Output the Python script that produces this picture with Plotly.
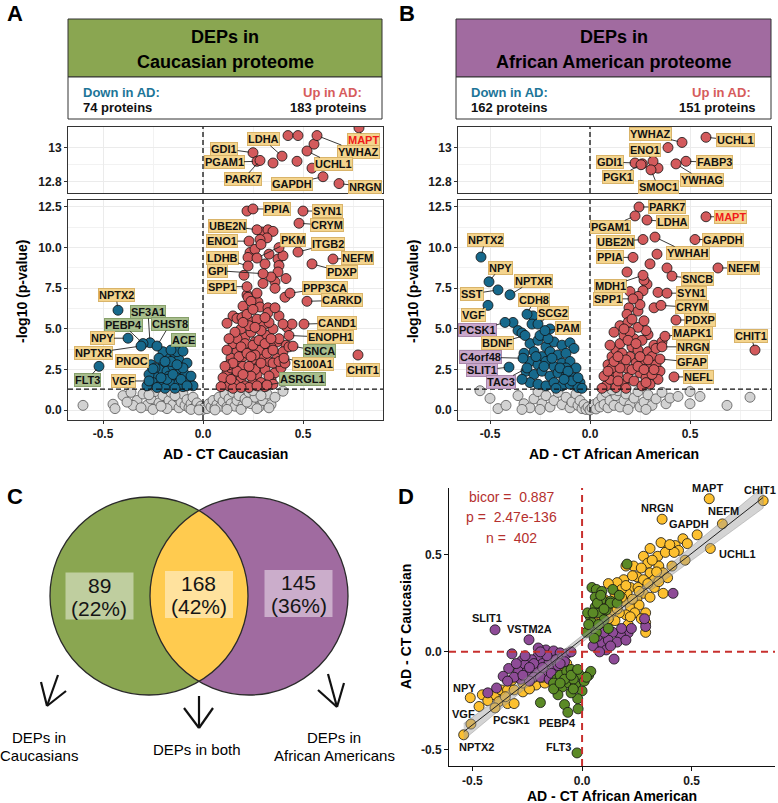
import numpy as np
import plotly.graph_objects as go

W, H = 778, 803
FONT = "Liberation Sans"

# ======================= DATA =======================
# ---- Panel A : Caucasian proteome (x = AD - CT, y = -log10 p) ----
a_labels = ["MAPT", "LDHA", "YWHAZ", "UCHL1", "GDI1", "PGAM1", "PARK7", "GAPDH", "NRGN",
            "PPIA", "SYN1", "CRYM", "UBE2N", "ENO1", "PKM", "ITGB2", "NEFM", "LDHB", "GPI",
            "PDXP", "SPP1", "PPP3CA", "CARKD", "CAND1", "ENOPH1", "SNCA", "S100A1", "CHIT1",
            "ASRGL1", "NPTX2", "SF3A1", "PEBP4", "CHST8", "NPY", "ACE", "NPTXR", "PNOC",
            "FLT3", "VGF"]
a_label_x = [0.78, 0.395, 0.57, 0.52, 0.25, 0.27, 0.285, 0.6, 0.68,
             0.25, 0.5, 0.48, 0.27, 0.23, 0.27, 0.475, 0.65, 0.225, 0.3,
             0.545, 0.22, 0.435, 0.52, 0.505, 0.43, 0.45, 0.405, 0.775,
             0.32, -0.425, -0.265, -0.3, -0.23, -0.375, -0.1, -0.31, -0.25,
             -0.52, -0.27]
a_label_y = [13.115, 12.95, 13.07, 12.98, 12.97, 12.92, 12.925, 12.83, 12.79,
             12.38, 12.25, 11.5, 11.1, 10.4, 9.36, 9.73, 9.3, 8.87, 8.4,
             9.0, 7.6, 7.2, 6.7, 5.3, 4.6, 3.94, 3.2, 3.4,
             1.55, 6.15, 4.15, 4.1, 3.95, 4.43, 3.63, 3.95, 2.55,
             2.7, 1.8]
a_label_dir = ["up"] * 29 + ["down"] * 10
a_label_group = ["both"] * 25 + ["cau", "both", "both", "cau", "both", "cau", "cau", "cau",
                                 "both", "cau", "both", "both", "cau", "both"]

a_up = [(0.425, 13.07), (0.475, 13.07), (0.555, 13.02), (0.35, 12.91), (0.47, 12.92), (0.545, 12.88),
        (0.22, 12.25), (0.295, 10.96), (0.325, 11.1), (0.35, 11.0), (0.32, 10.6), (0.285, 10.5),
        (0.235, 9.7), (0.225, 9.4), (0.375, 9.3), (0.38, 8.9), (0.375, 8.5), (0.205, 8.3), (0.415, 8.1), (0.36, 7.9),
        (0.22, 7.1), (0.225, 6.95), (0.275, 6.65), (0.36, 7.5), (0.41, 6.95),
        (0.2, 6.4), (0.285, 6.35), (0.325, 6.3), (0.325, 6.0), (0.29, 5.55),
        (0.15, 5.8), (0.17, 5.65), (0.12, 5.35), (0.195, 5.7), (0.235, 5.45),
        (0.42, 5.1), (0.445, 5.3), (0.415, 4.0), (0.37, 4.2), (0.34, 3.9), (0.3, 4.0),
        (0.12, 2.3), (0.14, 2.6), (0.16, 2.0), (0.11, 1.7), (0.13, 1.5), (0.18, 2.9), (0.2, 3.3), (0.17, 3.6),
        (0.15, 4.1), (0.21, 4.5), (0.19, 5.0), (0.24, 4.8), (0.26, 4.2), (0.23, 3.8), (0.25, 3.1), (0.28, 2.7),
        (0.22, 2.4), (0.19, 1.9), (0.16, 1.6), (0.25, 1.8), (0.27, 2.2), (0.31, 2.5), (0.33, 3.0), (0.3, 3.4),
        (0.28, 3.7), (0.32, 4.6), (0.35, 5.0), (0.3, 5.2), (0.27, 5.6), (0.22, 5.9), (0.14, 3.2), (0.12, 3.7),
        (0.1, 2.0), (0.09, 1.45), (0.21, 1.5), (0.29, 1.7), (0.34, 1.9), (0.36, 2.3), (0.39, 2.6), (0.37, 3.2),
        (0.4, 3.6), (0.43, 3.9), (0.38, 4.4), (0.35, 2.9), (0.26, 2.5), (0.2, 2.7), (0.17, 4.4), (0.29, 4.9),
        (0.33, 5.4), (0.38, 5.8), (0.4, 5.3), (0.24, 6.7), (0.27, 7.2), (0.3, 7.8), (0.34, 8.2), (0.31, 9.0),
        (0.26, 9.9), (0.29, 10.2), (0.33, 9.6), (0.4, 9.5), (0.38, 10.0), (0.13, 2.8), (0.18, 3.3),
        (0.23, 1.4), (0.31, 1.45), (0.15, 1.35), (0.24, 2.1), (0.33, 2.1), (0.21, 4.1),
        (0.14, 1.9), (0.17, 2.4), (0.2, 2.2), (0.23, 2.7), (0.26, 3.4), (0.29, 2.9), (0.32, 3.5),
        (0.35, 3.7), (0.15, 2.9), (0.19, 3.9), (0.22, 3.5), (0.25, 4.0), (0.28, 4.3), (0.31, 4.1),
        (0.34, 4.4), (0.23, 5.2), (0.2, 5.4), (0.26, 5.1), (0.16, 4.8), (0.13, 4.4), (0.11, 2.7),
        (0.38, 3.0), (0.41, 2.9), (0.27, 1.5), (0.35, 1.6), (0.19, 1.4), (0.24, 3.3), (0.31, 5.7),
        (0.36, 6.3), (0.25, 6.2)]
a_down = [(-0.17, 3.3), (-0.14, 3.45), (-0.12, 3.1), (-0.08, 2.9), (-0.2, 2.9), (-0.22, 2.5), (-0.18, 2.4),
          (-0.15, 2.7), (-0.11, 2.5), (-0.09, 2.2), (-0.13, 2.0), (-0.17, 2.1), (-0.24, 2.1), (-0.25, 1.7),
          (-0.21, 1.6), (-0.16, 1.6), (-0.12, 1.7), (-0.07, 1.8), (-0.05, 1.5), (-0.1, 1.45), (-0.19, 1.35),
          (-0.23, 1.4), (-0.14, 1.35), (-0.27, 2.2), (-0.2, 3.6), (-0.16, 3.0), (-0.1, 2.6), (-0.06, 2.1),
          (-0.28, 1.5), (-0.13, 3.6), (-0.18, 1.9), (-0.22, 3.2), (-0.26, 2.8), (-0.19, 3.0), (-0.15, 2.2),
          (-0.11, 1.9), (-0.21, 2.0), (-0.08, 1.5), (-0.24, 2.6), (-0.16, 3.7), (-0.13, 2.8)]
a_ns = [(-0.6, 0.3), (-0.45, 0.37), (-0.4, 0.9), (-0.36, 1.1), (-0.33, 0.6), (-0.3, 1.0), (-0.28, 0.3),
        (-0.26, 0.7), (-0.24, 1.15), (-0.22, 0.45), (-0.2, 0.9), (-0.19, 0.2), (-0.17, 0.6), (-0.16, 1.1),
        (-0.15, 0.35), (-0.13, 0.8), (-0.12, 0.15), (-0.11, 0.5), (-0.1, 1.0), (-0.09, 0.3), (-0.08, 0.65),
        (-0.07, 0.15), (-0.06, 0.4), (-0.05, 0.8), (-0.04, 0.2), (-0.03, 0.45), (-0.02, 0.1), (-0.01, 0.25),
        (0.0, 0.05), (0.01, 0.2), (0.02, 0.1), (0.03, 0.4), (0.04, 0.2), (0.05, 0.6), (0.06, 0.15),
        (0.07, 0.35), (0.08, 0.8), (0.09, 0.25), (0.1, 0.55), (0.11, 1.0), (0.12, 0.2), (0.13, 0.7),
        (0.14, 0.4), (0.15, 1.1), (0.16, 0.25), (0.17, 0.6), (0.18, 0.9), (0.2, 0.3), (0.21, 0.7),
        (0.23, 1.1), (0.24, 0.4), (0.26, 0.8), (0.28, 0.2), (0.3, 0.6), (0.32, 1.0), (0.34, 0.35),
        (0.4, 1.17), (-0.35, 0.3), (-0.25, 0.05), (-0.18, 0.1), (0.19, 0.05), (0.27, 0.1), (-0.31, 0.15),
        (-0.21, 0.25), (-0.14, 0.9), (0.22, 0.5), (0.25, 1.2), (0.29, 0.9), (-0.27, 0.95), (-0.38, 0.5),
        (0.33, 0.15), (0.36, 0.8), (-0.44, 0.1), (0.12, 0.05), (-0.06, 0.05), (0.06, 0.02), (-0.02, 0.02)]

# ---- Panel B : African American proteome ----
b_labels = ["YWHAZ", "UCHL1", "ENO1", "GDI1", "PGK1", "SMOC1", "FABP3", "YWHAG",
            "PARK7", "PGAM1", "LDHA", "MAPT", "UBE2N", "YWHAH", "GAPDH", "PPIA", "NEFM",
            "SNCB", "MDH1", "SYN1", "SPP1", "CRYM", "PDXP", "MAPK1", "NRGN", "GFAP", "NEFL",
            "CHIT1", "NPTX2", "NPY", "SST", "NPTXR", "VGF", "CDH8", "SCG2", "PAM", "PCSK1",
            "BDNF", "C4orf48", "SLIT1", "TAC3"]
b_label_x = [0.46, 0.58, 0.315, 0.225, 0.255, 0.305, 0.48, 0.43,
             0.245, 0.225, 0.285, 0.58, 0.265, 0.325, 0.525, 0.215, 0.64,
             0.41, 0.265, 0.385, 0.215, 0.355, 0.43, 0.375, 0.36, 0.35, 0.42,
             0.825, -0.545, -0.505, -0.46, -0.4, -0.51, -0.315, -0.26, -0.225, -0.425,
             -0.325, -0.335, -0.405, -0.315]
b_label_y = [13.03, 13.06, 12.92, 12.91, 12.9, 12.87, 12.92, 12.905,
             12.5, 11.95, 11.7, 11.9, 10.5, 10.65, 10.5, 9.4, 8.75,
             8.25, 8.3, 7.2, 6.85, 6.45, 5.55, 4.55, 3.9, 3.15, 2.05,
             3.7, 9.42, 7.9, 7.4, 7.1, 6.45, 5.9, 5.3, 4.9, 5.4,
             4.6, 3.2, 2.65, 2.6]
b_label_dir = ["up"] * 28 + ["down"] * 13
b_label_group = ["both"] * 36 + ["aa", "both", "aa", "aa", "aa"]

b_up = [(0.39, 13.0), (0.262, 12.905), (0.34, 12.88), (0.335, 9.6), (0.385, 8.75), (0.185, 8.5),
        (0.285, 7.75), (0.34, 7.25), (0.265, 7.35), (0.24, 7.0), (0.32, 6.3), (0.195, 6.3), (0.24, 6.1),
        (0.185, 5.9), (0.29, 4.65), (0.08, 1.5), (0.1, 1.9), (0.12, 2.4), (0.09, 2.8), (0.11, 3.3),
        (0.13, 3.7), (0.15, 4.1), (0.16, 3.0), (0.14, 2.2), (0.17, 1.6), (0.19, 2.0), (0.18, 2.6),
        (0.2, 3.3), (0.21, 3.9), (0.17, 4.6), (0.15, 5.2), (0.19, 5.4), (0.22, 4.4), (0.24, 3.7),
        (0.23, 2.9), (0.25, 2.3), (0.22, 1.8), (0.26, 1.5), (0.28, 2.0), (0.3, 2.6), (0.27, 3.1),
        (0.29, 3.6), (0.32, 4.0), (0.31, 3.3), (0.33, 2.8), (0.35, 2.4), (0.34, 1.9), (0.3, 1.6),
        (0.26, 4.3), (0.28, 4.9), (0.24, 5.1), (0.21, 5.6), (0.13, 1.4), (0.07, 2.1), (0.1, 4.0),
        (0.12, 4.8), (0.25, 6.5), (0.2, 7.3), (0.27, 8.0), (0.3, 9.0), (0.33, 3.8), (0.36, 4.2),
        (0.2, 4.8), (0.16, 3.5), (0.06, 1.35), (0.11, 2.6), (0.14, 1.8), (0.18, 1.35), (0.31, 2.2),
        (0.15, 2.6), (0.18, 3.1), (0.21, 2.5), (0.24, 2.7), (0.27, 2.5), (0.29, 3.1), (0.12, 3.0),
        (0.14, 3.3), (0.19, 4.3), (0.23, 4.1), (0.25, 3.3), (0.09, 2.4), (0.28, 1.7), (0.32, 2.5),
        (0.17, 5.0), (0.27, 5.5)]
b_down = [(-0.385, 5.4), (-0.285, 5.8), (-0.36, 4.9), (-0.34, 4.75), (-0.3, 4.1), (-0.26, 4.3),
          (-0.22, 3.9), (-0.18, 4.2), (-0.14, 4.0), (-0.1, 4.15), (-0.08, 3.8), (-0.28, 3.6),
          (-0.24, 3.3), (-0.2, 3.6), (-0.16, 3.4), (-0.12, 3.5), (-0.3, 3.0), (-0.26, 2.8),
          (-0.22, 3.0), (-0.18, 2.7), (-0.14, 2.9), (-0.1, 3.0), (-0.07, 2.6), (-0.32, 2.4),
          (-0.28, 2.2), (-0.24, 2.4), (-0.2, 2.1), (-0.16, 2.3), (-0.12, 2.1), (-0.08, 2.0),
          (-0.05, 1.7), (-0.3, 1.7), (-0.26, 1.6), (-0.22, 1.5), (-0.18, 1.7), (-0.14, 1.5),
          (-0.1, 1.6), (-0.06, 1.4), (-0.33, 3.5), (-0.25, 4.6), (-0.2, 5.0), (-0.17, 1.35),
          (-0.12, 2.6), (-0.04, 1.35), (-0.34, 1.9), (-0.29, 5.3), (-0.19, 3.2), (-0.15, 2.6),
          (-0.11, 2.4), (-0.23, 2.7), (-0.27, 3.3), (-0.09, 1.8), (-0.21, 4.4), (-0.13, 1.9), (-0.06, 2.0)]
b_ns = [(-0.55, 1.2), (-0.5, 0.73), (-0.46, 0.1), (-0.42, 0.3), (-0.36, 0.9), (-0.33, 0.4), (-0.3, 0.15),
        (-0.28, 0.7), (-0.26, 1.15), (-0.24, 0.4), (-0.22, 0.9), (-0.2, 0.2), (-0.18, 0.6), (-0.16, 1.1),
        (-0.14, 0.35), (-0.12, 0.8), (-0.1, 0.15), (-0.09, 0.5), (-0.07, 1.0), (-0.06, 0.3), (-0.05, 0.6),
        (-0.04, 0.1), (-0.03, 0.35), (-0.02, 0.05), (-0.01, 0.2), (0.0, 0.02), (0.01, 0.15), (0.02, 0.35),
        (0.03, 0.08), (0.04, 0.5), (0.05, 0.2), (0.06, 0.8), (0.07, 0.35), (0.08, 1.1), (0.09, 0.15),
        (0.1, 0.6), (0.12, 0.3), (0.13, 0.9), (0.14, 1.2), (0.15, 0.2), (0.17, 0.6), (0.18, 1.0),
        (0.2, 0.35), (0.22, 0.75), (0.24, 1.15), (0.25, 0.2), (0.27, 0.5), (0.29, 0.95), (0.31, 0.3),
        (0.33, 0.7), (0.36, 1.1), (0.38, 0.4), (0.4, 0.75), (0.44, 0.85), (0.5, 1.15), (0.5, 0.4),
        (0.55, 0.85), (0.685, 0.3), (0.8, 0.8), (-0.34, 0.05), (-0.25, 0.05), (0.19, 0.05), (0.28, 0.05),
        (0.11, 1.25)]

a_counts = {"down": 74, "up": 183}
b_counts = {"down": 162, "up": 151}

# ---- Panel C : Venn counts ----
venn_counts = [89, 168, 145]
venn_pct = [22, 42, 36]
venn_names = ["DEPs in<br>Caucasians", "DEPs in both", "DEPs in<br>African Americans"]

# ---- Panel D : AD-CT (AA) vs AD-CT (Caucasian) ----
d_both = [(0.46, 0.58), (0.48, 0.555), (0.425, 0.545), (0.395, 0.54), (0.31, 0.53), (0.28, 0.49),
          (0.345, 0.49), (0.38, 0.51), (0.47, 0.47), (0.235, 0.44), (0.3, 0.455), (0.35, 0.44),
          (0.37, 0.405), (0.31, 0.405), (0.25, 0.385), (0.28, 0.37), (0.33, 0.37), (0.39, 0.38),
          (0.19, 0.37), (0.16, 0.355), (0.22, 0.33), (0.255, 0.33), (0.28, 0.3), (0.25, 0.27),
          (0.205, 0.3), (0.18, 0.32), (0.15, 0.3), (0.37, 0.3), (0.12, 0.35), (0.1, 0.27),
          (0.14, 0.24), (0.19, 0.26), (0.22, 0.23), (0.29, 0.2), (0.29, 0.15), (0.29, 0.1),
          (0.26, 0.24), (0.24, 0.2), (0.2, 0.19), (0.17, 0.2), (0.13, 0.2), (0.08, 0.22),
          (0.06, 0.15), (0.1, 0.13), (0.15, 0.16), (0.21, 0.14), (0.2, 0.44), (0.33, 0.33),
          (0.41, 0.44), (0.44, 0.52), (0.36, 0.56), (-0.455, -0.22), (-0.4, -0.22), (-0.37, -0.195),
          (-0.34, -0.195), (-0.31, -0.195), (-0.27, -0.205), (-0.38, -0.255), (-0.34, -0.265),
          (-0.31, -0.265), (-0.32, -0.145), (-0.21, -0.17), (-0.27, -0.16), (-0.17, -0.16),
          (-0.43, -0.25), (-0.47, -0.28), (-0.35, -0.23), (-0.24, -0.19), (-0.14, -0.12),
          (-0.1, -0.1), (-0.07, -0.06), (-0.18, -0.13), (0.32, 0.47), (0.27, 0.43), (0.23, 0.39),
          (0.34, 0.41), (0.3, 0.35), (0.26, 0.31), (0.23, 0.27), (0.2, 0.34), (0.18, 0.28),
          (0.16, 0.22), (0.27, 0.17), (0.22, 0.18), (0.42, 0.51), (0.4, 0.55), (0.12, 0.17),
          (0.09, 0.18), (0.35, 0.36), (0.31, 0.28)]
d_cau = [(0.205, 0.45), (0.045, 0.33), (0.065, 0.32), (0.09, 0.31), (0.14, 0.32), (0.06, 0.28),
         (0.09, 0.27), (0.13, 0.26), (0.037, 0.18), (0.06, 0.23), (0.08, 0.2), (0.1, 0.165),
         (0.037, 0.12), (0.065, 0.1), (0.11, 0.215), (0.13, 0.25), (0.025, 0.2), (0.045, 0.15),
         (0.075, 0.14), (0.12, 0.12), (0.16, 0.25), (0.17, 0.29), (0.02, 0.1), (0.055, 0.07),
         (-0.115, -0.14), (-0.1, -0.12), (-0.07, -0.1), (-0.05, -0.09), (-0.03, -0.11), (-0.01, -0.12),
         (0.03, -0.12), (-0.13, -0.16), (-0.09, -0.18), (-0.06, -0.16), (-0.03, -0.17), (0.0, -0.2),
         (-0.02, -0.24), (-0.11, -0.22), (-0.08, -0.27), (-0.065, -0.31), (-0.19, -0.26), (-0.04, -0.14),
         (0.01, -0.15), (-0.13, -0.19), (0.04, -0.1), (-0.05, -0.21), (0.07, 0.25), (0.1, 0.22),
         (0.05, 0.2), (0.085, 0.29), (0.03, 0.14), (-0.08, -0.14), (-0.05, -0.12), (-0.02, -0.09),
         (-0.1, -0.16), (-0.04, -0.19), (0.02, -0.13)]
d_aa = [(0.415, 0.3), (0.09, 0.046), (0.11, 0.01), (0.146, -0.037), (0.21, 0.097), (0.225, 0.12),
        (0.175, 0.087), (0.14, 0.1), (0.12, 0.06), (0.16, 0.05), (0.07, 0.08), (0.29, 0.13),
        (0.285, 0.17), (0.1, 0.1), (0.2, 0.06), (-0.32, -0.01), (-0.275, -0.045), (-0.335, -0.085),
        (-0.36, -0.125), (-0.43, -0.21), (-0.39, -0.185), (-0.165, 0.01), (-0.13, 0.005), (-0.1, -0.005),
        (-0.2, -0.02), (-0.23, -0.04), (-0.26, -0.065), (-0.18, -0.06), (-0.15, -0.05), (-0.12, -0.04),
        (-0.09, -0.03), (-0.07, -0.01), (-0.29, -0.1), (-0.25, -0.1), (-0.21, -0.09), (-0.17, -0.1),
        (-0.13, -0.09), (-0.22, -0.13), (-0.19, -0.13), (-0.15, -0.14), (-0.28, -0.14), (-0.31, -0.13),
        (-0.24, -0.15), (-0.2, 0.02), (-0.11, -0.07), (-0.08, -0.05), (-0.05, 0.0), (-0.26, -0.02),
        (-0.3, -0.06), (-0.34, -0.15), (0.05, 0.03), (-0.16, -0.02), (-0.22, -0.06), (-0.14, -0.11),
        (-0.27, -0.12), (-0.18, -0.08), (-0.24, -0.08), (-0.1, -0.06), (-0.19, 0.0), (0.13, 0.03),
        (0.18, 0.12), (0.08, 0.0)]
d_labels = ["CHIT1", "MAPT", "NEFM", "NRGN", "GAPDH", "UCHL1", "SLIT1", "VSTM2A", "NPY", "VGF",
            "NPTX2", "PCSK1", "PEBP4", "FLT3"]
d_label_x = [0.826, 0.58, 0.64, 0.365, 0.525, 0.585, -0.397, -0.242, -0.51, -0.507, -0.54, -0.397, -0.018, -0.023]
d_label_y = [0.775, 0.785, 0.656, 0.68, 0.6, 0.53, 0.113, 0.062, -0.235, -0.37, -0.425, -0.287, -0.292, -0.518]
d_label_group = ["both"] * 6 + ["aa", "aa"] + ["both"] * 4 + ["cau", "cau"]
d_stats = {"bicor": "0.887", "p": "2.47e-136", "n": "402"}

# ======================= STYLE / POSITIONS =======================
a_label_off = [(4, 12), (-19, -17), (41, 16), (26, 13), (-29, -4), (-33, 1), (-17, 19), (-31, 7), (26, 3),
               (24, 0), (24, 0), (28, 2), (-30, -4), (-27, 0), (36, -18), (30, -8), (24, -1), (-26, -8),
               (-46, -3), (30, 8), (-25, 0), (35, -5), (35, -1), (33, -1), (41, 2), (26, 5), (29, 6),
               (5, 15), (35, -6), (-2, -15), (-2, -31), (-20, -19), (13, -22), (-26, 0), (0, -11),
               (-48, 7), (-21, -8), (-12, 14), (-26, 0)]
b_label_off = [(-32, -8), (29, 3), (-8, -11), (-25, -1), (-23, 12), (7, 17), (28, 1), (26, 16),
               (28, 0), (-25, 11), (25, 2), (24, 0), (-28, 2), (33, 16), (28, 0), (-23, 0), (25, 0),
               (25, 3), (-33, 11), (24, 0), (-25, 0), (31, 2), (24, 0), (27, -3), (31, 0), (32, 3),
               (24, 0), (-4, -14), (4, -17), (11, -14), (-26, 4), (23, -14), (-15, 10), (7, -14),
               (15, -11), (23, -3), (-28, 8), (-28, 8), (-43, -1), (-27, 3), (-26, 14)]
d_label_shift = [(-3, 11), (-2, 11), (1, 13), (-5, 11), (-8, 11), (27, -6), (-8, 12), (0, 11),
                 (-6, 10), (-7, 10), (13, -12), (16, -12), (-21, -14), (-19, 6)]

RED, BLUE, GREYC = "#D35A5C", "#17698C", "#D2D2D2"
TAG = {"both": ("#F4D48D", "#D9B46A"), "cau": ("#A8BE8D", "#87A06B"), "aa": ("#C9A7CB", "#A987AB")}
DCOL = {"both": "#FDC02F", "cau": "#5B8A26", "aa": "#8E4B97"}
HEAD_GREEN, HEAD_PURPLE = "#8AA651", "#A16BA0"
VENN_GREEN, VENN_PURPLE, VENN_YELLOW = "#8AA651", "#A06BA0", "#FFCB4F"


def ptx(px):
    return px / W


def pty(py):
    return 1 - py / H


shapes, annotations = [], []


def add_text(x, y, s, size=12, bold=False, color="#000000", xanchor="center", angle=0):
    annotations.append(dict(x=ptx(x), y=pty(y), xref="paper", yref="paper", text=s, showarrow=False,
                            xanchor=xanchor, yanchor="middle", textangle=angle, borderpad=0,
                            font=dict(family=FONT, size=size, color=color,
                                      weight="bold" if bold else "normal")))


def add_rect(x0, y0, x1, y1, fill, line_color="#333333", lw=1):
    shapes.append(dict(type="rect", xref="paper", yref="paper", x0=ptx(x0), x1=ptx(x1),
                       y0=pty(y1), y1=pty(y0), fillcolor=fill,
                       line=dict(color=line_color, width=lw)))


def add_line(x0, y0, x1, y1, color="#111111", width=2):
    shapes.append(dict(type="line", xref="paper", yref="paper", x0=ptx(x0), y0=pty(y0),
                       x1=ptx(x1), y1=pty(y1), line=dict(color=color, width=width)))


fig = go.Figure()
TICKFONT = dict(family=FONT, size=12, color="#1a1a1a", weight="bold")


# ======================= VOLCANO PANELS =======================
def volcano(xb, yb, xt, yt, labels, lx, ly, ldir, lgroup, loff, up, down, ns):
    groups = [(ns, GREYC, "#555555", None), (down, BLUE, "#111111", "down"), (up, RED, "#111111", "up")]
    for pts, col, lc, key in groups:
        xs = [p[0] for p in pts]
        ys = [p[1] for p in pts]
        if key is not None:
            xs += [lx[i] for i in range(len(labels)) if ldir[i] == key]
            ys += [ly[i] for i in range(len(labels)) if ldir[i] == key]
        xs, ys = np.array(xs), np.array(ys)
        top = ys > 12.7
        mk = dict(size=10, color=col, line=dict(color=lc, width=0.8))
        fig.add_trace(go.Scatter(x=xs[~top], y=ys[~top], mode="markers", marker=mk,
                                 xaxis=xb, yaxis=yb, hoverinfo="skip"))
        fig.add_trace(go.Scatter(x=xs[top], y=ys[top], mode="markers", marker=mk,
                                 xaxis=xt, yaxis=yt, hoverinfo="skip"))
    for i, name in enumerate(labels):
        is_top = ly[i] > 12.7
        bg, bc = TAG[lgroup[i]]
        col = "#F01A1A" if name == "MAPT" else "#111111"
        annotations.append(dict(
            x=lx[i], y=ly[i], xref=xt if is_top else xb, yref=yt if is_top else yb,
            text=name, showarrow=True, arrowhead=0, arrowwidth=0.9, arrowcolor="#222222",
            ax=loff[i][0], ay=loff[i][1], standoff=4,
            font=dict(family=FONT, size=11, color=col, weight="bold"),
            bgcolor=bg, bordercolor=bc, borderwidth=1, borderpad=0))
    # dashed thresholds
    for xr, yr in [(xb, yb), (xt, yt)]:
        shapes.append(dict(type="line", xref=xr, yref=yr + " domain", x0=0, x1=0, y0=0, y1=1,
                           line=dict(color="#111111", width=1.3, dash="5px,3px")))
    shapes.append(dict(type="line", xref=xb + " domain", yref=yb, x0=0, x1=1,
                       y0=-np.log10(0.05), y1=-np.log10(0.05),
                       line=dict(color="#111111", width=1.3, dash="5px,3px")))


volcano("x", "y", "x2", "y2", a_labels, a_label_x, a_label_y, a_label_dir, a_label_group,
        a_label_off, a_up, a_down, a_ns)
volcano("x3", "y3", "x4", "y4", b_labels, b_label_x, b_label_y, b_label_dir, b_label_group,
        b_label_off, b_up, b_down, b_ns)

# ======================= PANEL D =======================
for key, pts in [("both", d_both), ("aa", d_aa), ("cau", d_cau)]:
    xs = [p[0] for p in pts] + [d_label_x[i] for i in range(len(d_labels)) if d_label_group[i] == key]
    ys = [p[1] for p in pts] + [d_label_y[i] for i in range(len(d_labels)) if d_label_group[i] == key]
    fig.add_trace(go.Scatter(x=xs, y=ys, mode="markers", xaxis="x5", yaxis="y5", hoverinfo="skip",
                             marker=dict(size=10, color=DCOL[key], line=dict(color="#111111", width=0.8))))

allx = np.array([p[0] for p in d_both + d_cau + d_aa] + d_label_x)
ally = np.array([p[1] for p in d_both + d_cau + d_aa] + d_label_y)
slope, icpt = np.polyfit(allx, ally, 1)
n = len(allx)
resid = ally - (slope * allx + icpt)
s = np.sqrt(np.sum(resid ** 2) / (n - 2))
sxx = np.sum((allx - allx.mean()) ** 2)
gx = np.linspace(allx.min(), allx.max(), 80)
gy = slope * gx + icpt
se = s * np.sqrt(1 / n + (gx - allx.mean()) ** 2 / sxx)
ci = 1.97 * se
fig.add_trace(go.Scatter(x=np.concatenate([gx, gx[::-1]]), y=np.concatenate([gy + ci, (gy - ci)[::-1]]),
                         fill="toself", fillcolor="rgba(160,160,160,0.45)", mode="lines",
                         line=dict(color="rgba(120,120,120,0.6)", width=0.6),
                         xaxis="x5", yaxis="y5", hoverinfo="skip"))
fig.add_trace(go.Scatter(x=gx, y=gy, mode="lines", line=dict(color="#222222", width=1),
                         xaxis="x5", yaxis="y5", hoverinfo="skip"))

shapes.append(dict(type="line", xref="x5", yref="y5 domain", x0=0, x1=0, y0=0, y1=1,
                   line=dict(color="#C8302E", width=2, dash="7px,5px")))
shapes.append(dict(type="line", xref="x5 domain", yref="y5", x0=0, x1=1, y0=0, y1=0,
                   line=dict(color="#C8302E", width=2, dash="7px,5px")))

for i, name in enumerate(d_labels):
    annotations.append(dict(x=d_label_x[i], y=d_label_y[i], xref="x5", yref="y5", text=name,
                            showarrow=False, xshift=d_label_shift[i][0], yshift=d_label_shift[i][1],
                            font=dict(family=FONT, size=11, color="#111111", weight="bold")))

NB = "\u00a0"
add_text(512, 497, "bicor =" + NB * 2 + d_stats["bicor"], 14, color="#B5302E")
add_text(512, 517, "p =" + NB * 2 + d_stats["p"], 14, color="#B5302E")
add_text(512, 538, "n =" + NB * 2 + d_stats["n"], 14, color="#B5302E")

# ======================= HEADERS (A, B) =======================
for (x0, x1, fill, l1, l2, cnt) in [(68, 382, HEAD_GREEN, "DEPs in", "Caucasian proteome", a_counts),
                                    (456, 771, HEAD_PURPLE, "DEPs in", "African American proteome", b_counts)]:
    add_rect(x0, 19, x1, 77, fill)
    add_rect(x0, 77, x1, 119, "#FFFFFF")
    cx = (x0 + x1) / 2
    add_text(cx, 37, l1, 18, True)
    add_text(cx, 62, l2, 18, True)
    add_text(x0 + 14, 92, "Down in AD:", 13, True, "#1C7598", "left")
    add_text(x0 + 14, 108, f"{cnt['down']} proteins", 13, True, "#111111", "left")
    add_text(x1 - 19, 92, "Up in AD:", 13, True, "#D65C5C", "right")
    add_text(x1 - 14, 108, f"{cnt['up']} proteins", 13, True, "#111111", "right")

# axis titles
add_text(22, 292, "-log10 (p-value)", 14, True, angle=-90)
add_text(413, 292, "-log10 (p-value)", 14, True, angle=-90)
add_text(225, 454, "AD - CT Caucasian", 14, True)
add_text(614, 454, "AD - CT African American", 14, True)
add_text(612, 796, "AD - CT African American", 14, True)
add_text(406, 627, "AD - CT Caucasian", 14, True, angle=-90)

# panel letters
add_text(15, 14, "A", 22, True)
add_text(407, 14, "B", 22, True)
add_text(15, 496, "C", 22, True)
add_text(406, 496, "D", 22, True)

# ======================= PANEL C : VENN =======================
cxg, cxp, cy, r = 149, 249, 596, 99
shapes.append(dict(type="circle", xref="paper", yref="paper", x0=ptx(cxg - r), x1=ptx(cxg + r),
                   y0=pty(cy + r), y1=pty(cy - r), fillcolor=VENN_GREEN, line=dict(width=0)))
shapes.append(dict(type="circle", xref="paper", yref="paper", x0=ptx(cxp - r), x1=ptx(cxp + r),
                   y0=pty(cy + r), y1=pty(cy - r), fillcolor=VENN_PURPLE, line=dict(width=0)))
half = np.arccos((cxp - cxg) / 2 / r)
t1 = np.linspace(np.pi - half, np.pi + half, 40)
t2 = np.linspace(-half, half, 40)
lens_x = np.concatenate([cxp + r * np.cos(t1), cxg + r * np.cos(t2)])
lens_y = np.concatenate([cy + r * np.sin(t1), cy + r * np.sin(t2)])
path = "M " + " L ".join(f"{ptx(a):.5f},{pty(b):.5f}" for a, b in zip(lens_x, lens_y)) + " Z"
shapes.append(dict(type="path", xref="paper", yref="paper", path=path, fillcolor=VENN_YELLOW,
                   line=dict(width=0)))
for c in (cxg, cxp):
    shapes.append(dict(type="circle", xref="paper", yref="paper", x0=ptx(c - r), x1=ptx(c + r),
                       y0=pty(cy + r), y1=pty(cy - r), line=dict(color="#2A2A2A", width=1.3)))

for (bx, by), cnt, pct in zip([(99.5, 596), (199, 594.5), (298.5, 593.5)], venn_counts, venn_pct):
    add_rect(bx - 34, by - 23.5, bx + 34, by + 23.5, "rgba(255,255,255,0.45)", "rgba(0,0,0,0)", 0)
    add_text(bx, by - 11, str(cnt), 21, False, "#151515")
    add_text(bx, by + 12, f"({pct}%)", 21, False, "#151515")

# hand-drawn style arrows
for seg in [((58, 675), (47, 706)), ((41, 682), (47, 706)), ((66, 691), (47, 706)),
            ((199, 696), (199, 728)), ((184, 708), (199, 728)), ((213, 708), (199, 728)),
            ((328, 674), (337, 707)), ((318, 690), (337, 707)), ((344, 683), (337, 707))]:
    add_line(seg[0][0], seg[0][1], seg[1][0], seg[1][1], "#111111", 2.2)

add_text(39, 737, "DEPs in", 15)
add_text(39, 755, "Caucasians", 15)
add_text(197, 749, venn_names[1], 15)
add_text(334, 737, "DEPs in", 15)
add_text(334, 755, "African Americans", 15)

# ======================= AXES =======================
def vx(dom, rng, anchor, labels=True):
    return dict(domain=[ptx(dom[0]), ptx(dom[1])], range=rng, anchor=anchor,
                tickvals=[-0.5, 0, 0.5], ticktext=["-0.5", "0.0", "0.5"], showticklabels=labels,
                showgrid=True, gridcolor="#EBEBEB", gridwidth=1,
                minor=dict(tickvals=[-0.25, 0.25, 0.75], showgrid=True, gridcolor="#F2F2F2", gridwidth=0.6),
                zeroline=False, showline=True, mirror=True, linecolor="#333333", linewidth=1,
                ticks="outside" if labels else "", ticklen=3, tickcolor="#333333", tickfont=TICKFONT)


def vy(dom, rng, anchor, tv, tt, minor):
    return dict(domain=[pty(dom[1]), pty(dom[0])], range=rng, anchor=anchor,
                tickvals=tv, ticktext=tt, showgrid=True, gridcolor="#EBEBEB", gridwidth=1,
                minor=dict(tickvals=minor, showgrid=True, gridcolor="#F2F2F2", gridwidth=0.6),
                zeroline=False, showline=True, mirror=True, linecolor="#333333", linewidth=1,
                ticks="outside", ticklen=3, tickcolor="#333333", tickfont=TICKFONT)


ybt_v = [0, 2.5, 5, 7.5, 10, 12.5]
ybt_t = ["0.0", "2.5", "5.0", "7.5", "10.0", "12.5"]
ybt_m = [1.25, 3.75, 6.25, 8.75, 11.25]

fig.update_layout(
    width=W, height=H, margin=dict(l=0, r=0, t=0, b=0),
    paper_bgcolor="white", plot_bgcolor="white", showlegend=False,
    font=dict(family=FONT),
    xaxis=vx((68, 383), [-0.675, 0.9], "y"),
    yaxis=vy((200, 420), [-0.6, 12.93], "x", ybt_v, ybt_t, ybt_m),
    xaxis2=vx((68, 383), [-0.675, 0.9], "y2", False),
    yaxis2=vy((127, 193), [12.735, 13.12], "x2", [12.8, 13.0], ["12.8", "13"], [12.9]),
    xaxis3=vx((458, 771), [-0.66, 0.905], "y3"),
    yaxis3=vy((200, 420), [-0.6, 12.93], "x3", ybt_v, ybt_t, ybt_m),
    xaxis4=vx((458, 771), [-0.66, 0.905], "y4", False),
    yaxis4=vy((127, 193), [12.735, 13.12], "x4", [12.8, 13.0], ["12.8", "13"], [12.9]),
    xaxis5=dict(domain=[ptx(449), ptx(775)], range=[-0.607, 0.88], anchor="y5",
                tickvals=[-0.5, 0, 0.5], ticktext=["-0.5", "0.0", "0.5"], showgrid=False,
                zeroline=False, showline=True, linecolor="#111111", linewidth=1, ticks="outside",
                ticklen=4, tickcolor="#111111", tickfont=TICKFONT),
    yaxis5=dict(domain=[pty(766), pty(488)], range=[-0.585, 0.84], anchor="x5",
                tickvals=[-0.5, 0, 0.5], ticktext=["-0.5", "0.0", "0.5"], showgrid=False,
                zeroline=False, showline=True, linecolor="#111111", linewidth=1, ticks="outside",
                ticklen=4, tickcolor="#111111", tickfont=TICKFONT),
    shapes=shapes, annotations=annotations,
)

fig.write_html("out.html", config={"displayModeBar": False},
               post_script="document.body.style.margin='0px';")
